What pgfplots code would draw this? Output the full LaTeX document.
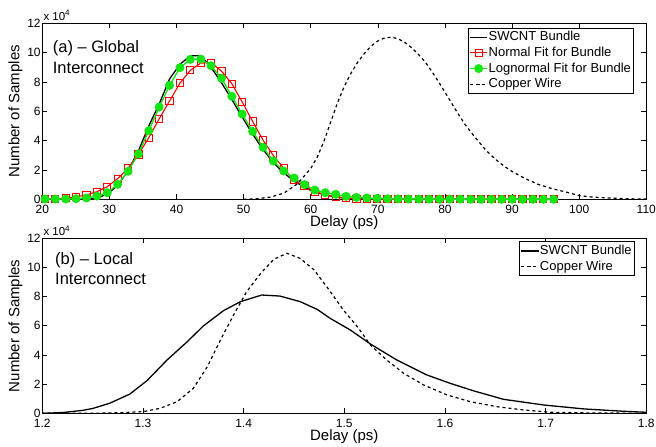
\documentclass[border=0pt]{standalone}
\usepackage{fontspec}
\setmainfont{Liberation Sans}
\usepackage{pgfplots}
\usepackage{pgfplotstable}
\pgfplotsset{compat=1.18}
\definecolor{mgreen}{RGB}{20,230,20}
\definecolor{mred}{RGB}{255,0,0}

% top panel: histogram bins (delay in ps, counts in units of 10^4)
\pgfplotstableread{
x      sw    nf    lf
20.40  0     0.02  0.02
21.95  0     0.04  0.02
23.49  0     0.09  0.02
25.04  0     0.16  0.04
26.59  0.01  0.30  0.09
28.14  0.08  0.52  0.22
29.68  0.35  0.86  0.45
31.23  0.95  1.41  1.02
32.78  1.95  2.11  1.91
34.32  3.30  3.06  3.09
35.87  5.00  4.20  4.68
37.42  6.50  5.49  6.29
38.96  8.20  6.70  7.77
40.51  9.20  7.92  8.97
42.06  9.79  8.79  9.54
43.61  9.79  9.29  9.56
45.15  9.00  9.31  9.11
46.70  7.95  8.74  8.25
48.25  6.80  7.88  7.02
49.79  5.60  6.63  5.81
51.34  4.45  5.31  4.63
52.89  3.40  4.04  3.54
54.43  2.50  2.98  2.61
55.98  1.80  2.11  1.93
57.53  1.25  1.29  1.45
59.08  0.80  0.91  1.00
60.62  0.50  0.52  0.63
62.17  0.30  0.30  0.45
63.72  0.15  0.16  0.34
65.26  0.08  0.08  0.20
66.81  0.04  0.04  0.13
68.36  0.02  0.02  0.09
69.90  0.01  0.01  0.06
71.45  0     0.01  0.04
73.00  0     0     0.03
74.55  0     0     0.02
76.09  0     0     0.02
77.64  0     0     0.01
79.19  0     0     0.01
80.73  0     0     0.01
82.28  0     0     0.01
83.83  0     0     0
85.37  0     0     0
86.92  0     0     0
88.47  0     0     0
90.01  0     0     0
91.56  0     0     0
93.11  0     0     0
94.66  0     0     0
96.20  0     0     0
}\topdata

\pgfplotstableread{
x    y
50   0
52   0.04
54   0.15
56   0.42
58   1.05
60   2.10
61   2.90
62   4.00
63   5.30
64   6.60
65   7.70
66   8.60
67   9.35
68   9.95
69   10.45
70   10.80
71   11.00
72   11.05
73   10.95
74   10.70
75   10.35
76   9.90
77   9.40
78   8.75
79   8.05
80   7.30
81   6.55
82   5.80
83   5.10
84   4.50
85   3.95
86   3.40
87   2.95
88   2.55
89   2.20
90   1.90
91   1.65
92   1.40
93   1.20
94   1.00
96   0.72
98   0.50
100  0.25
102  0.15
104  0.10
106  0.06
108  0.03
110  0.02
}\topcopper

\pgfplotstableread{
x      y
1.200  0
1.220  0.05
1.240  0.20
1.250  0.33
1.267  0.69
1.287  1.32
1.304  2.24
1.324  3.66
1.344  4.91
1.360  5.99
1.380  7.04
1.397  7.66
1.418  8.11
1.436  8.04
1.456  7.66
1.473  7.13
1.486  6.51
1.506  5.71
1.526  4.75
1.552  3.66
1.582  2.63
1.605  2.06
1.628  1.55
1.658  0.96
1.698  0.57
1.738  0.30
1.777  0.14
1.800  0.07
}\botswcnt

\pgfplotstableread{
x      y
1.200  0
1.250  0
1.280  0.05
1.300  0.11
1.317  0.34
1.334  0.80
1.350  1.71
1.364  3.20
1.377  5.03
1.390  6.74
1.403  8.34
1.417  9.60
1.430  10.56
1.443  10.97
1.456  10.63
1.470  9.83
1.485  8.45
1.499  7.09
1.513  5.94
1.526  4.68
1.542  3.66
1.559  2.74
1.579  1.94
1.602  1.26
1.625  0.80
1.652  0.45
1.678  0.23
1.705  0.07
1.740  0.03
1.800  0
}\botcopper

\begin{document}
\begin{tikzpicture}
\useasboundingbox (0pt,0pt) rectangle (656pt,447pt);
\pgfplotsset{
 myax/.style={
  scale only axis, width=604pt,
  clip mode=individual,
  axis line style={line width=1.1pt},
  every tick/.style={black, line width=0.7pt},
  major tick length=5pt,
  tick align=inside,
  /pgf/number format/assume math mode=true,
  tick label style={font=\fontsize{12}{14}\selectfont},
  xticklabel style={anchor=base, yshift=-13.8pt, inner sep=0pt},
  yticklabel style={anchor=east, inner sep=0pt, xshift=-1.5pt},
  xlabel style={at={(axis description cs:0.5,0)}, anchor=base, yshift=-26.8pt, font=\fontsize{15}{17}\selectfont, inner sep=0pt},
  ylabel style={at={([xshift=-23pt]axis description cs:0,0.5)}, anchor=base, font=\fontsize{15}{17}\selectfont, inner sep=0pt},
  ymin=0, ymax=12, ytick={0,2,4,6,8,10,12},
  legend style={draw=black, line width=0.8pt, font=\fontsize{13}{15}\selectfont, inner sep=1.5pt, outer sep=0pt, row sep=0pt,
    nodes={inner sep=0.8pt, text height=10.5pt, text depth=3.5pt}},
  legend cell align=left,
 }
}
\begin{axis}[myax, at={(42.3pt,247.7pt)}, anchor=south west, height=176pt,
  xmin=20, xmax=110, xtick={20,30,40,50,60,70,80,90,100,110},
  xlabel={Delay (ps)}, ylabel={Number of Samples},
  legend style={at={(0.9785,0.973)}, anchor=north east}]
\addplot[black, line width=1.3pt, no marks] table[x=x, y=sw] {\topdata};
\addlegendentry{SWCNT Bundle}
\addplot[mred, line width=1.1pt, mark=square, mark size=3.6pt, mark options={solid, line width=1pt}] table[x=x, y=nf] {\topdata};
\addlegendentry{Normal Fit for Bundle}
\addplot[mgreen, line width=1.3pt, mark=*, mark size=3.8pt, mark options={solid}] table[x=x, y=lf] {\topdata};
\addlegendentry{Lognormal Fit for Bundle}
\addplot[black, line width=1.2pt, no marks, dash pattern=on 3pt off 3pt] table[x=x, y=y] {\topcopper};
\addlegendentry{Copper Wire}
\node[anchor=base west, inner sep=0pt, font=\fontsize{16.5}{18}\selectfont] at (axis cs:21.55,10.04) {(a) -- Global};
\node[anchor=base west, inner sep=0pt, font=\fontsize{16.5}{18}\selectfont] at (axis cs:21.55,8.59) {Interconnect};
\node[anchor=base west, inner sep=0pt, font=\fontsize{11.5}{13}\selectfont] at ([xshift=1pt,yshift=3pt]rel axis cs:0,1) {x 10\textsuperscript{4}};
\end{axis}

\begin{axis}[myax, at={(42.3pt,33.7pt)}, anchor=south west, height=175pt,
  xmin=1.2, xmax=1.8, xtick={1.2,1.3,1.4,1.5,1.6,1.7,1.8},
  xticklabels={1.2,1.3,1.4,1.5,1.6,1.7,1.8},
  xlabel={Delay (ps)}, ylabel={Number of Samples},
  legend style={at={(0.9797,0.9806)}, anchor=north east}]
\addplot[black, line width=1.3pt, no marks] table[x=x, y=y] {\botswcnt};
\addlegendentry{SWCNT Bundle}
\addplot[black, line width=1.2pt, no marks, dash pattern=on 3pt off 3pt] table[x=x, y=y] {\botcopper};
\addlegendentry{Copper Wire}
\node[anchor=base west, inner sep=0pt, font=\fontsize{16.5}{18}\selectfont] at (axis cs:1.2126,10.17) {(b) -- Local};
\node[anchor=base west, inner sep=0pt, font=\fontsize{16.5}{18}\selectfont] at (axis cs:1.2126,8.85) {Interconnect};
\node[anchor=base west, inner sep=0pt, font=\fontsize{11.5}{13}\selectfont] at ([xshift=1pt,yshift=2.5pt]rel axis cs:0,1) {x 10\textsuperscript{4}};
\end{axis}
\end{tikzpicture}
\end{document}
